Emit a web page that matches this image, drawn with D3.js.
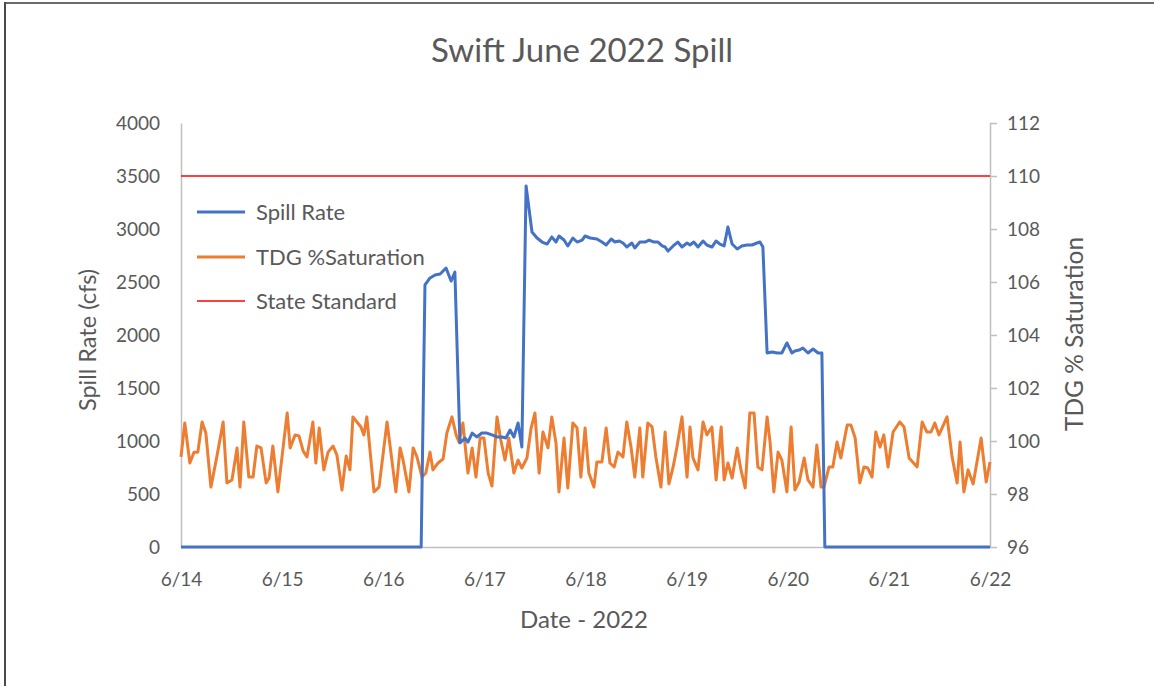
<!DOCTYPE html>
<html>
<head>
<meta charset="utf-8">
<script src="https://cdn.jsdelivr.net/npm/d3@7"></script>
<style>
  html, body { margin: 0; padding: 0; background: #fff; }
  svg { display: block; font-family: "Lato", "Open Sans", sans-serif; }
</style>
</head>
<body>
<svg id="chart" width="1154" height="686"></svg>
<script>
// Hours after 2022-06-14 00:00 and readings
const spillHours = [0, 57.0, 57.9, 59.1, 60.3, 61.5, 62.9, 64.1, 65.0, 66.2, 67.4, 68.1, 69.1, 70.2, 71.4, 72.6, 73.8, 75.0, 76.2, 77.1, 78.1, 79.0, 80.0, 80.9,
  81.9, 83.3, 84.5, 85.7, 86.9, 88.0, 89.0, 89.7, 90.9, 91.8, 93.0, 94.0, 95.2, 95.9, 97.1, 98.7, 99.9, 100.9, 102.1, 103.0, 104.0, 104.9, 105.8, 107.0, 107.7,
  108.9, 110.1, 111.1, 112.3, 113.2, 114.2, 114.9, 115.6, 116.8, 117.9, 118.9, 120.1, 120.8, 121.7, 122.7, 123.9, 124.8, 126.0, 127.0, 127.9, 128.9, 129.8,
  130.8, 132.0, 133.1, 134.3, 135.5, 136.7, 137.4, 138.1, 139.1, 140.3, 141.5, 142.6, 143.8, 145.0, 145.7, 146.7, 147.6, 148.8, 150.0, 151.2, 152.1, 152.8, 192.0];
const spillCfs = [0, 0, 2472, 2538, 2566, 2575, 2632, 2509, 2594, 981, 1028, 990, 1075, 1038, 1075, 1075, 1057, 1038, 1038, 1028, 1104, 1038, 1170, 943,
  3406, 2972, 2915, 2877, 2858, 2925, 2877, 2934, 2896, 2840, 2915, 2877, 2896, 2934, 2915, 2906, 2877, 2849, 2906, 2877, 2887, 2868, 2830, 2868, 2821,
  2877, 2877, 2896, 2877, 2877, 2840, 2830, 2792, 2840, 2877, 2830, 2868, 2849, 2877, 2830, 2887, 2849, 2830, 2887, 2858, 2840, 3019,
  2858, 2811, 2840, 2849, 2849, 2868, 2877, 2830, 1830, 1840, 1830, 1830, 1925, 1830, 1849, 1858, 1877, 1830, 1868, 1830, 1830, 0, 0];

const tdgHours = [0.0, 0.9, 2.1, 3.1, 4.0, 5.0, 5.9, 7.1, 8.5, 10.0, 10.9, 12.1, 13.3, 14.0, 14.9, 16.1, 17.1, 18.0, 19.0, 20.2, 20.9, 21.8, 23.0,
  25.2, 25.9, 27.1, 28.0, 29.0, 29.9, 31.3, 32.0, 32.8, 33.9, 34.9, 36.1, 37.0, 38.2, 39.2, 40.1, 40.8, 42.7, 43.4, 44.1, 45.8, 47.0, 48.9,
  51.0, 52.0, 52.7, 54.1, 55.1, 56.0, 57.2, 58.1, 59.1, 59.8, 61.0, 62.2, 63.1, 64.3, 65.3, 66.0, 66.9, 68.1, 69.1, 70.0, 71.0, 71.9, 72.9,
  73.8, 75.0, 75.9, 76.9, 77.8, 79.0, 80.0, 80.9, 82.1, 83.1, 84.0, 85.0, 85.9, 87.1, 88.0, 89.0, 89.7, 90.9, 91.8, 93.0, 94.0, 94.9, 95.9,
  96.8, 98.0, 98.7, 99.9, 100.9, 101.8, 102.8, 103.7, 104.9, 105.8, 106.8, 107.7, 108.9, 109.6, 110.8, 111.8, 112.7, 113.9, 114.9, 115.8,
  116.8, 117.7, 118.9, 120.1, 120.8, 121.5, 122.7, 123.9, 124.8, 126.0, 127.0, 128.2, 128.9, 129.8, 130.8, 132.0, 132.9, 133.9, 135.0,
  136.0, 136.9, 137.9, 139.1, 139.8, 140.7, 141.7, 142.6, 143.8, 144.8, 145.7, 146.7, 147.9, 148.8, 150.0, 150.9, 151.9, 152.6, 153.8,
  154.7, 155.7, 156.6, 158.1, 159.0, 160.0, 161.1, 162.1, 163.0, 164.0, 164.9, 165.9, 166.8, 167.8, 169.0, 170.6, 171.6, 172.8, 174.7,
  175.9, 177.0, 178.0, 178.9, 179.9, 181.8, 183.0, 184.2, 184.9, 185.8, 186.8, 188.0, 189.9, 191.1, 192.0];
const tdgPct = [99.40, 100.68, 99.17, 99.58, 99.58, 100.72, 100.30, 98.26, 99.40, 100.72, 98.42, 98.53, 99.74, 98.26, 100.72, 98.64, 98.64, 99.81, 99.74, 98.42, 98.60, 99.81, 98.08,
  101.06, 99.74, 100.23, 100.19, 99.62, 99.40, 100.72, 99.17, 100.49, 98.91, 99.58, 99.81, 99.47, 98.15, 99.43, 98.91, 100.91, 100.53, 100.23, 100.91, 98.08, 98.26, 100.72,
  98.08, 99.74, 99.28, 98.08, 99.74, 99.40, 98.64, 98.79, 99.58, 98.91, 99.17, 99.32, 100.30, 100.91, 100.23, 99.96, 100.68, 98.79, 99.74, 98.64, 100.11, 100.11, 98.79,
  98.30, 100.91, 100.04, 99.28, 100.11, 98.79, 99.28, 98.98, 99.36, 100.49, 101.06, 98.79, 100.34, 99.74, 100.91, 99.92, 98.08, 100.11, 98.23, 100.68, 100.49, 98.64, 100.49,
  98.79, 98.26, 99.21, 99.21, 100.49, 99.17, 99.02, 99.58, 99.40, 100.72, 99.77, 98.64, 100.49, 98.64, 100.68, 100.53, 99.40, 98.26, 100.34, 98.38,
  99.02, 99.77, 100.91, 98.64, 100.53, 99.36, 98.91, 100.72, 100.23, 100.53, 98.53, 100.53, 98.53, 99.17, 98.60, 99.74, 98.91, 98.23, 101.06,
  101.06, 99.02, 98.91, 100.91, 99.96, 98.08, 99.58, 99.28, 98.08, 100.53, 98.15, 98.45, 99.36, 98.53, 98.26, 99.85, 98.26, 98.26, 99.02,
  99.02, 99.96, 99.36, 100.60, 100.60, 100.11, 98.42, 99.02, 98.98, 98.64, 100.34, 99.77, 100.23, 99.02, 100.34, 100.72, 100.53, 99.36, 99.02,
  100.72, 100.34, 100.34, 100.68, 100.23, 100.91, 99.40, 98.42, 99.96, 98.08, 98.91, 98.38, 100.11, 98.45, 99.21];

const stateStandard = 110;
const leftTicks = [0, 500, 1000, 1500, 2000, 2500, 3000, 3500, 4000];
const rightTicks = [96, 98, 100, 102, 104, 106, 108, 110, 112];
const dayTicks = ["2022-06-14", "2022-06-15", "2022-06-16", "2022-06-17", "2022-06-18", "2022-06-19", "2022-06-20", "2022-06-21", "2022-06-22"];
const seriesNames = ["Spill Rate", "TDG %Saturation", "State Standard"];
const colors = { spill: "#4472C4", tdg: "#ED7D31", std: "#FF0000" };

const t0 = Date.UTC(2022, 5, 14);
const toDate = h => new Date(t0 + h * 3600e3);
const svg = d3.select("#chart");
const textColor = "#595959";
const axisColor = "#BFBFBF";

// Frame edges
svg.append("rect").attr("x", 0).attr("y", 0).attr("width", 1154).attr("height", 686).attr("fill", "#fff");
svg.append("rect").attr("x", 4).attr("y", 2).attr("width", 1150).attr("height", 2).attr("fill", "#6b6b6b");
svg.append("rect").attr("x", 4).attr("y", 2).attr("width", 2).attr("height", 684).attr("fill", "#4a4a4a");

const plot = { left: 181, right: 990, top: 123, bottom: 547 };

const x = d3.scaleUtc()
  .domain([new Date(dayTicks[0] + "T00:00Z"), new Date(dayTicks[dayTicks.length - 1] + "T00:00Z")])
  .range([plot.left, plot.right]);
const yL = d3.scaleLinear().domain([0, 4000]).range([plot.bottom, plot.top]);
const yR = d3.scaleLinear().domain([96, 112]).range([plot.bottom, plot.top]);

// Axes
const fmt = d3.utcFormat("%-m/%-d");
const gx = svg.append("g").attr("transform", `translate(0,${plot.bottom})`)
  .call(d3.axisBottom(x).tickValues(dayTicks.map(d => new Date(d + "T00:00Z"))).tickFormat(fmt).tickSize(0).tickPadding(26));
const gl = svg.append("g").attr("transform", `translate(${plot.left},0)`)
  .call(d3.axisLeft(yL).tickValues(leftTicks).tickFormat(d3.format("d")).tickSize(0).tickPadding(21));
const gr = svg.append("g").attr("transform", `translate(${plot.right},0)`)
  .call(d3.axisRight(yR).tickValues(rightTicks).tickSizeInner(7).tickSizeOuter(0).tickPadding(10));

[gx, gl, gr].forEach(g => {
  g.select(".domain").attr("stroke", axisColor).attr("stroke-width", 1.5);
  g.selectAll(".tick line").attr("stroke", axisColor).attr("stroke-width", 1.5);
  g.selectAll(".tick text").attr("fill", textColor).style("font-size", "19px").style("font-family", "Lato, sans-serif");
});

// State standard
svg.append("line")
  .attr("x1", plot.left).attr("x2", plot.right)
  .attr("y1", yR(stateStandard)).attr("y2", yR(stateStandard))
  .attr("stroke", colors.std).attr("stroke-width", 1.3);

// TDG series (secondary axis)
const tdgLine = d3.line().x(d => x(toDate(d[0]))).y(d => yR(d[1]));
svg.append("path")
  .datum(tdgHours.map((h, i) => [h, tdgPct[i]]))
  .attr("d", tdgLine)
  .attr("fill", "none").attr("stroke", colors.tdg).attr("stroke-width", 3).attr("stroke-linejoin", "round");

// Spill series (primary axis)
const spillLine = d3.line().x(d => x(toDate(d[0]))).y(d => yL(d[1]));
svg.append("path")
  .datum(spillHours.map((h, i) => [h, spillCfs[i]]))
  .attr("d", spillLine)
  .attr("fill", "none").attr("stroke", colors.spill).attr("stroke-width", 3).attr("stroke-linejoin", "round");

// Titles
svg.append("text").attr("x", 582).attr("y", 62).attr("text-anchor", "middle")
  .attr("fill", textColor).style("font-size", "33px").text("Swift June 2022 Spill");
svg.append("text").attr("x", 584).attr("y", 628).attr("text-anchor", "middle")
  .attr("fill", textColor).style("font-size", "24px").text("Date - 2022");
svg.append("text").attr("transform", "translate(96,340) rotate(-90)").attr("text-anchor", "middle")
  .attr("fill", textColor).style("font-size", "23.5px").text("Spill Rate (cfs)");
svg.append("text").attr("transform", "translate(1083,334) rotate(-90)").attr("text-anchor", "middle")
  .attr("fill", textColor).style("font-size", "24.5px").text("TDG % Saturation");

// Legend
const legend = svg.append("g");
const legendRows = [
  { name: seriesNames[0], color: colors.spill, w: 3, y: 212 },
  { name: seriesNames[1], color: colors.tdg, w: 3, y: 257 },
  { name: seriesNames[2], color: colors.std, w: 1.3, y: 301 }
];
legendRows.forEach(r => {
  legend.append("line").attr("x1", 197).attr("x2", 245).attr("y1", r.y).attr("y2", r.y)
    .attr("stroke", r.color).attr("stroke-width", r.w);
  legend.append("text").attr("x", 256).attr("y", r.y).attr("dy", "0.35em")
    .attr("fill", textColor).style("font-size", "22px").text(r.name);
});
</script>
</body>
</html>
